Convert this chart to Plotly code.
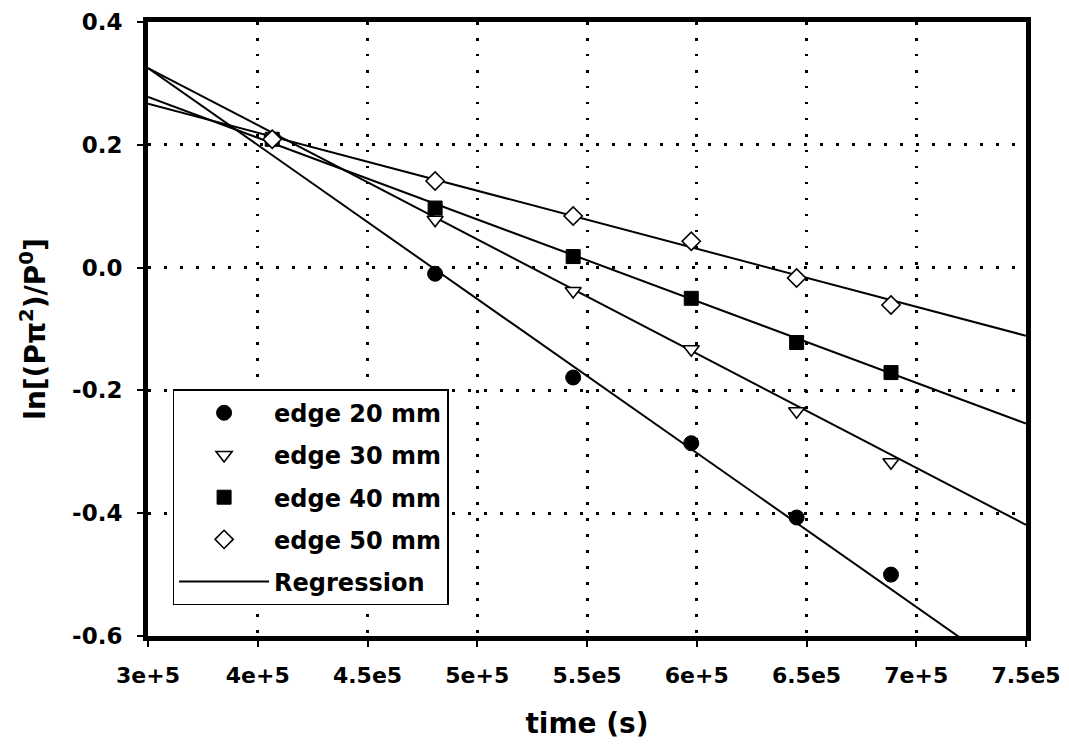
import plotly.graph_objects as go

# ---- data ----
time_s = [4.066e5, 4.808e5, 5.437e5, 5.975e5, 6.455e5, 6.885e5]
edge20 = [0.209, -0.010, -0.179, -0.286, -0.407, -0.500]
edge30 = [0.209, 0.078, -0.038, -0.133, -0.234, -0.317]
edge40 = [0.209, 0.097, 0.018, -0.050, -0.122, -0.171]
edge50 = [0.209, 0.141, 0.084, 0.043, -0.017, -0.061]

reg_x = [3.5e5, 7.5e5]
reg20 = [0.325, -0.678]
reg30 = [0.325, -0.419]
reg40 = [0.278, -0.254]
reg50 = [0.267, -0.111]

x_tickvals = [3.5e5, 4e5, 4.5e5, 5e5, 5.5e5, 6e5, 6.5e5, 7e5, 7.5e5]
x_ticktext = ["3e+5", "4e+5", "4.5e5", "5e+5", "5.5e5", "6e+5", "6.5e5", "7e+5", "7.5e5"]
y_tickvals = [0.4, 0.2, 0.0, -0.2, -0.4, -0.6]
y_ticktext = ["0.4", "0.2", "0.0", "-0.2", "-0.4", "-0.6"]

series = [
    ("edge 20 mm", edge20, dict(symbol="circle", size=15, color="black",
                                 line=dict(color="black", width=1))),
    ("edge 30 mm", edge30, dict(symbol="triangle-down", size=14, color="white",
                                 line=dict(color="black", width=1.6))),
    ("edge 40 mm", edge40, dict(symbol="square", size=14, color="black",
                                 line=dict(color="black", width=1))),
    ("edge 50 mm", edge50, dict(symbol="diamond", size=14, color="white",
                                 line=dict(color="black", width=1.6))),
]
regs = [reg20, reg30, reg40, reg50]

FONT = "DejaVu Sans"
fig = go.Figure()

# regression lines (under markers)
for i, r in enumerate(regs):
    fig.add_trace(go.Scatter(
        x=reg_x, y=r, mode="lines", line=dict(color="black", width=2),
        showlegend=(i == 0), name="Regression", legendgroup="reg",
        legendrank=1000, hoverinfo="skip"))

for k, (name, vals, mk) in enumerate(series):
    fig.add_trace(go.Scatter(
        x=time_s, y=vals, mode="markers", name=name, marker=mk,
        legendgroup="g%d" % k, legendrank=k + 1))

# page body adds 8px margin; size the figure so the page does not scroll
fig.update_layout(
    width=1061, height=738,
    margin=dict(l=140, r=43, t=14, b=110, autoexpand=False),
    paper_bgcolor="white", plot_bgcolor="white",
    font=dict(family=FONT, color="black", weight="bold"),
    legend=dict(
        x=0.028, y=0.402, xanchor="left", yanchor="top",
        bgcolor="white", bordercolor="black", borderwidth=1.5,
        font=dict(family=FONT, size=24, color="black", weight="bold"),
        itemwidth=90, tracegroupgap=8, traceorder="grouped",
    ),
)

fig.update_xaxes(
    range=[3.5e5, 7.5e5], tickmode="array", tickvals=x_tickvals, ticktext=x_ticktext,
    automargin=False, ticklabeloverflow="allow",
    showline=True, linecolor="black", linewidth=5, mirror=True,
    ticks="outside", ticklen=6, tickwidth=1.5, tickcolor="black",
    ticklabelstandoff=10,
    tickfont=dict(family=FONT, size=22, color="black", weight="bold"),
    showgrid=True, gridcolor="black", gridwidth=2.5, griddash="2.5px,13.5px",
    zeroline=False,
    title=dict(text="time (s)", standoff=27,
               font=dict(family=FONT, size=28, color="black", weight="bold")),
)
fig.update_yaxes(
    range=[-0.6, 0.4], tickmode="array", tickvals=y_tickvals, ticktext=y_ticktext,
    automargin=False, ticklabeloverflow="allow",
    showline=True, linecolor="black", linewidth=5, mirror=True,
    ticks="outside", ticklen=6, tickwidth=1.5, tickcolor="black",
    ticklabelstandoff=10,
    tickfont=dict(family=FONT, size=23, color="black", weight="bold"),
    showgrid=True, gridcolor="black", gridwidth=2.5, griddash="2.5px,13.5px",
    zeroline=False,
    title=dict(text="ln[(Pπ<sup>2</sup>)/P<sup>0</sup>]", standoff=20,
               font=dict(family=FONT, size=28, color="black", weight="bold")),
)

fig.write_html("out.html")
